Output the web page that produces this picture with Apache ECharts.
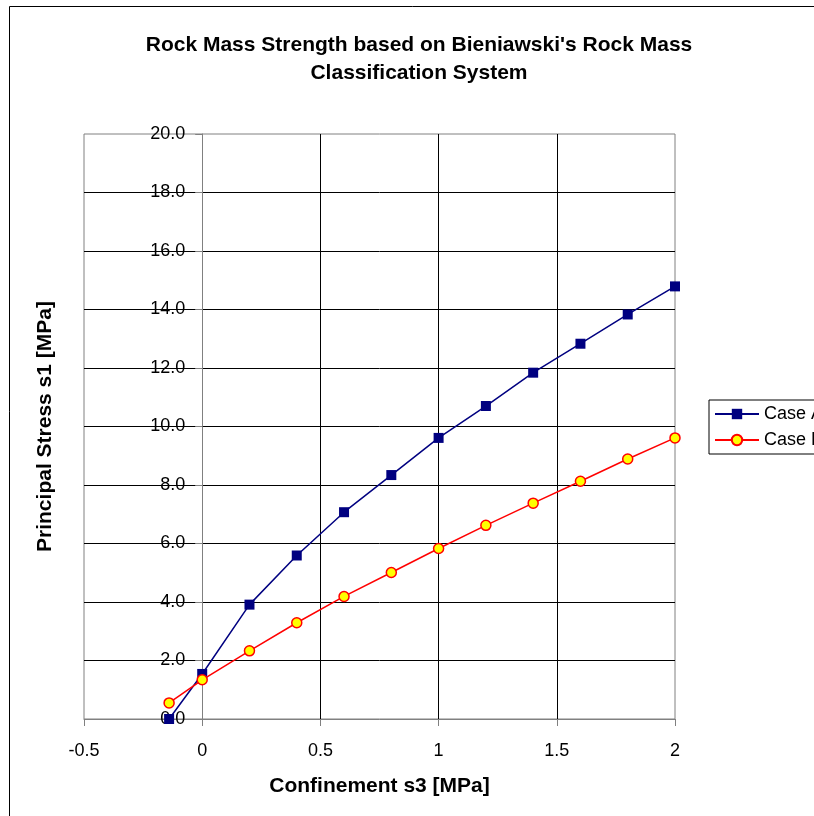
<!DOCTYPE html>
<html>
<head>
<meta charset="utf-8">
<script src="https://cdn.jsdelivr.net/npm/echarts@6/dist/echarts.min.js"></script>
<style>
html,body{margin:0;padding:0;background:#fff;}
#chart{width:814px;height:816px;}
</style>
</head>
<body>
<div id="chart"></div>
<script>
const titleLines = ["Rock Mass Strength based on Bieniawski's Rock Mass", "Classification System"];
const xName = "Confinement s3 [MPa]";
const yName = "Principal Stress s1 [MPa]";
const s3Values = [-0.14, 0, 0.2, 0.4, 0.6, 0.8, 1.0, 1.2, 1.4, 1.6, 1.8, 2.0];
const caseA = [0.0, 1.54, 3.91, 5.59, 7.07, 8.34, 9.61, 10.70, 11.84, 12.83, 13.83, 14.79];
const caseB = [0.55, 1.34, 2.33, 3.29, 4.19, 5.01, 5.83, 6.62, 7.38, 8.13, 8.89, 9.61];
const seriesNames = ["Case A", "Case B"];

const font = "'Liberation Sans', Arial, sans-serif";
const pairs = (xs, ys) => xs.map((x, i) => [x, ys[i]]);

const gridLeft = 84, gridWidth = 591, xMin = -0.5, xMax = 2;
// shift the y axis (line, ticks, labels) onto x = 0, as in the reference
const yAxisOffset = -gridWidth * (0 - xMin) / (xMax - xMin);

const chart = echarts.init(document.getElementById('chart'), null, {renderer: 'canvas'});
chart.setOption({
  animation: false,
  backgroundColor: '#ffffff',
  textStyle: {fontFamily: font},
  graphic: [
    {type: 'rect', shape: {x: 9.5, y: 6.5, width: 900, height: 900}, style: {fill: 'none', stroke: '#000', lineWidth: 1}, silent: true},
    {type: 'text', x: 419, y: 31, style: {text: titleLines.join('\n'), textAlign: 'center', fill: '#000', font: "bold 21px 'Liberation Sans', Arial, sans-serif", lineHeight: 28}}
  ],
  grid: {left: gridLeft, top: 134, width: gridWidth, height: 585, containLabel: false, outerBoundsMode: 'none',
         show: true, borderColor: '#808080', borderWidth: 1, backgroundColor: 'transparent'},
  legend: {
    orient: 'vertical', left: 709, top: 400,
    backgroundColor: '#fff', borderColor: '#000', borderWidth: 1, borderRadius: 0,
    padding: [5, 6, 5, 5], itemGap: 8, itemWidth: 44, itemHeight: 13,
    textStyle: {fontSize: 18, color: '#000', fontFamily: font, lineHeight: 18},
    data: seriesNames
  },
  xAxis: {
    type: 'value', min: xMin, max: xMax, interval: 0.5,
    name: xName, nameLocation: 'middle', nameGap: 57,
    nameTextStyle: {fontSize: 21, fontWeight: 'bold', color: '#000', fontFamily: font},
    axisLine: {show: true, onZero: false, lineStyle: {color: '#808080', width: 1}},
    axisTick: {show: true, length: 7, lineStyle: {color: '#808080'}},
    axisLabel: {fontSize: 18, color: '#000', margin: 23, fontFamily: font},
    splitLine: {show: true, showMinLine: false, showMaxLine: false, lineStyle: {color: '#000', width: 1}}
  },
  yAxis: {
    type: 'value', min: 0, max: 20, interval: 2,
    offset: yAxisOffset,
    name: yName, nameLocation: 'middle', nameGap: 146, nameRotate: 90,
    nameTextStyle: {fontSize: 21, fontWeight: 'bold', color: '#000', fontFamily: font},
    axisLine: {show: true, onZero: false, lineStyle: {color: '#808080', width: 1}},
    axisTick: {show: true, length: 7, lineStyle: {color: '#808080'}},
    axisLabel: {fontSize: 18, color: '#000', margin: 17, fontFamily: font, formatter: v => v.toFixed(1)},
    splitLine: {show: true, showMinLine: false, showMaxLine: false, lineStyle: {color: '#000', width: 1}}
  },
  series: [
    {
      name: seriesNames[0], type: 'line', data: pairs(s3Values, caseA),
      symbol: 'rect', symbolSize: 10, clip: false,
      lineStyle: {color: '#000080', width: 1.5},
      itemStyle: {color: '#000080', borderColor: '#000080', borderWidth: 0},
      z: 3
    },
    {
      name: seriesNames[1], type: 'line', data: pairs(s3Values, caseB),
      symbol: 'circle', symbolSize: 10, clip: false,
      lineStyle: {color: '#ff0000', width: 1.5},
      itemStyle: {color: '#ffff00', borderColor: '#ff0000', borderWidth: 1.5},
      z: 4
    }
  ]
});
</script>
</body>
</html>
